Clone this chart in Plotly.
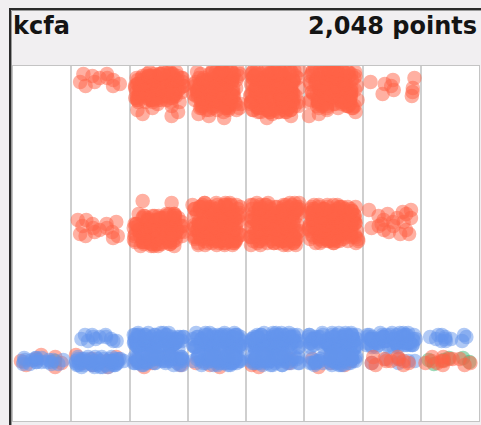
import plotly.graph_objects as go

# ---------------- data ----------------
TITLE = "kcfa"
COLUMNS = [0, 1, 2, 3, 4, 5, 6, 7]
ROW_STEP = 2  # value units between profile rows

# each entry: (column, value of first row, per-row point counts going down,
# one hex digit per row)
RED_TOP_CORE = [
    (1, 347, "2121212"),
    (2, 349, "5888888888888885"),
    (3, 351, "577777777777777777775"),
    (4, 353, "188888888888888888888881"),
    (5, 353, "577777777777777777775"),
    (6, 343, "1111111111"),
]
RED_TOP_HALO = [
    (2, 317, "1111111"),
    (3, 309, "1111"),
    (4, 305, "11"),
    (5, 311, "1111"),
]
RED_MID_CORE = [
    (1, 201, "2121212121"),
    (2, 207, "58888888888888885"),
    (3, 218, "5888888888888888888885"),
    (4, 218, "5888888888888888888885"),
    (5, 216, "58888888888888888885"),
    (6, 211, "2121212121212"),
]
RED_MID_HALO = [
    (2, 220, "11"),
]
BLUE_UP = [
    (1, 86, "3333"),
    (2, 88, "5aaaaaaa5"),
    (3, 88, "5aaaaaaa5"),
    (4, 88, "5aaaaaaa5"),
    (5, 88, "5aaaaaaa5"),
    (6, 88, "5aaaaaa5"),
    (7, 86, "3333"),
]
BLUE_LOW = [
    (0, 63, "4664"),
    (1, 64, "5aaaa5"),
    (2, 66, "5aaaa5"),
    (3, 66, "5aaaa5"),
    (4, 66, "5aaaa5"),
    (5, 66, "5aaaa5"),
    (6, 62, "222"),
]
RED_LOW_UNDER = [
    (0, 66, "1111111"),
    (1, 66, "1111111"),
    (2, 66, "1111111"),
    (3, 66, "1111111"),
    (4, 66, "1111111"),
    (5, 66, "1111111"),
]
RED_LOW_OVER = [
    (6, 64, "22322"),
    (7, 64, "23332"),
]
GREEN_LOW = [
    (0, 60, "1"),
    (7, 63, "2211"),
]

RED = "rgb(255,99,71)"
BLUE = "rgb(100,149,237)"
GREEN = "rgb(60,179,113)"

LAYERS = [
    (GREEN_LOW, GREEN),
    (RED_LOW_UNDER, RED),
    (RED_TOP_CORE, RED),
    (RED_TOP_HALO, RED),
    (RED_MID_CORE, RED),
    (RED_MID_HALO, RED),
    (BLUE_UP, BLUE),
    (BLUE_LOW, BLUE),
    (RED_LOW_OVER, RED),
]


def expand(profile):
    xs, ys = [], []
    for col, top, counts in profile:
        for j, ch in enumerate(counts):
            for _ in range(int(ch, 16)):
                xs.append(COLUMNS[col])
                ys.append(top - ROW_STEP * j)
    return xs, ys


# ---------------- figure ----------------
W, H = 481, 425
ML, MR, MT, MB = 13, 2, 66, 4
PW, PH = W - ML - MR, H - MT - MB

fig = go.Figure()
total = 0
for profile, color in LAYERS:
    xs, ys = expand(profile)
    total += len(xs)
    fig.add_trace(go.Box(
        x=xs, y=ys,
        boxpoints="all", jitter=1, pointpos=0, width=0.86,
        fillcolor="rgba(0,0,0,0)",
        line=dict(width=0, color="rgba(0,0,0,0)"),
        marker=dict(color=color, size=13, opacity=0.5,
                    line=dict(color=color, width=1.5)),
        hoveron="points",
        showlegend=False,
    ))


def px_x(p):
    return (p - ML) / PW


def px_y(p):
    return (H - MB - p) / PH


fig.update_layout(
    width=W, height=H,
    margin=dict(l=ML, r=MR, t=MT, b=MB, pad=0),
    paper_bgcolor="#f1eff1",
    plot_bgcolor="white",
    showlegend=False,
    boxmode="overlay",
    xaxis=dict(range=[-0.5, 7.5], tickvals=[0.5, 1.5, 2.5, 3.5, 4.5, 5.5, 6.5],
               showticklabels=False, ticks="", showgrid=True,
               gridcolor="#cfcfcf", gridwidth=2, zeroline=False,
               showline=True, mirror=True, linecolor="#c4c4c4", linewidth=1,
               fixedrange=True),
    yaxis=dict(range=[0, PH], showticklabels=False, ticks="", showgrid=False,
               zeroline=False, showline=True, mirror=True,
               linecolor="#c4c4c4", linewidth=1, fixedrange=True),
    shapes=[
        dict(type="rect", xref="paper", yref="paper",
             x0=px_x(10), x1=px_x(520), y0=px_y(9), y1=px_y(470),
             line=dict(color="#2b2b2b", width=2), fillcolor="rgba(0,0,0,0)",
             layer="below"),
        dict(type="rect", xref="paper", yref="paper",
             x0=px_x(11.5), x1=px_x(520), y0=px_y(10.5), y1=px_y(470),
             line=dict(color="#9a9a9a", width=1), fillcolor="rgba(0,0,0,0)",
             layer="below"),
    ],
    annotations=[
        dict(text="<b>%s</b>" % TITLE, xref="paper", yref="paper",
             x=px_x(11.5), y=px_y(25.7), xanchor="left", yanchor="middle",
             showarrow=False, borderpad=0,
             font=dict(family="DejaVu Sans", size=24, color="#141414")),
        dict(text="<b>%s points</b>" % format(total, ","), xref="paper", yref="paper",
             x=px_x(478), y=px_y(25.7), xanchor="right", yanchor="middle",
             showarrow=False, borderpad=0,
             font=dict(family="DejaVu Sans", size=24, color="#141414")),
    ],
)

fig.write_html("out.html", config={"displayModeBar": False},
               post_script="document.body.style.margin='0';document.body.style.padding='0';")
